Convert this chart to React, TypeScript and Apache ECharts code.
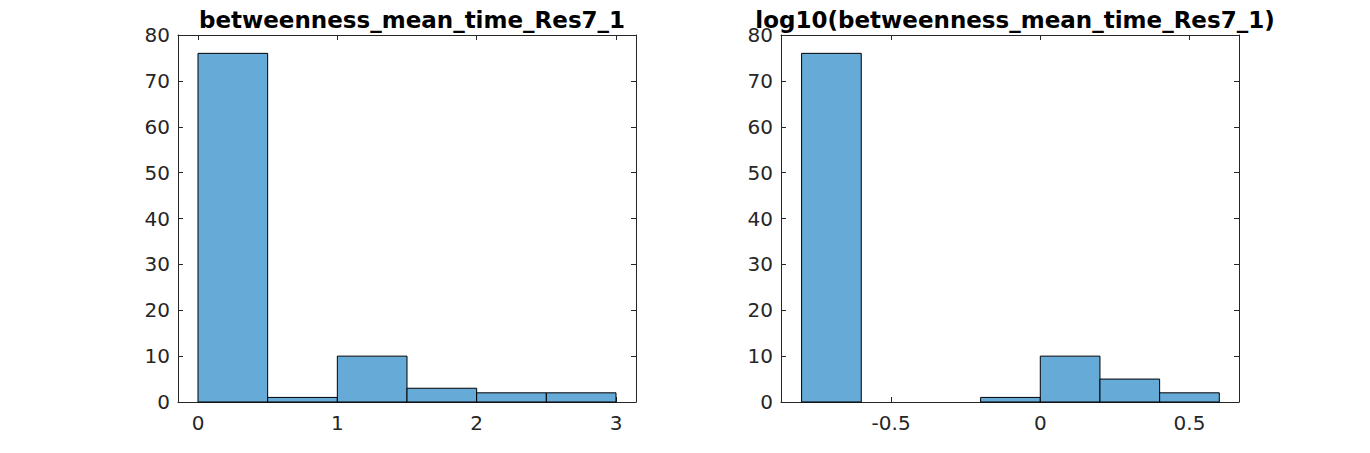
import { useEffect, useRef } from 'react';
import * as echarts from 'echarts';

// histogram bins: [start, end, count]
const binEdgesLeft = [0, 0.5, 1, 1.5, 2, 2.5, 3];
const countsLeft = [76, 1, 10, 3, 2, 2];
const binEdgesRight = [-0.8, -0.6, -0.4, -0.2, 0, 0.2, 0.4, 0.6];
const countsRight = [76, 0, 0, 1, 10, 5, 2];
const ticksLeft = [0, 1, 2, 3];
const ticksRight = [-0.5, 0, 0.5];
const titles = ['betweenness_mean_time_Res7_1', 'log10(betweenness_mean_time_Res7_1)'];

const AXIS = '#262626';
const FONT = "'DejaVu Sans', sans-serif";

const toBins = (edges: number[], counts: number[]) =>
  counts.map((c, i) => [edges[i], edges[i + 1], c]);

export default function App() {
  const chartRef = useRef<HTMLDivElement>(null);

  useEffect(() => {
    if (!chartRef.current) return;
    const chart = echarts.init(chartRef.current, null, { renderer: 'svg' });

    const grids = [
      { left: 178, top: 35, width: 458, height: 367 },
      { left: 781, top: 35, width: 458, height: 367 },
    ];
    const ranges = [
      { min: -0.1435, max: 3.1435, ticks: ticksLeft },
      { min: -0.869, max: 0.666, ticks: ticksRight },
    ];

    const xAxis: any[] = [];
    const yAxis: any[] = [];
    ranges.forEach((r, g) => {
      ['bottom', 'top'].forEach((pos) => {
        xAxis.push({
          type: 'value',
          gridIndex: g,
          position: pos,
          min: r.min,
          max: r.max,
          axisLine: { show: true, onZero: false, lineStyle: { color: AXIS, width: 1 } },
          axisTick: { show: true, inside: true, length: 5, customValues: r.ticks, lineStyle: { color: AXIS } },
          axisLabel: {
            show: pos === 'bottom',
            customValues: r.ticks,
            color: AXIS,
            fontSize: 20,
            fontFamily: FONT,
            margin: 11,
            formatter: (v: number) => (v < 0 ? '-' + String(Math.abs(v)) : String(v)),
          },
          splitLine: { show: false },
        });
      });
      ['left', 'right'].forEach((pos) => {
        yAxis.push({
          type: 'value',
          gridIndex: g,
          position: pos,
          min: 0,
          max: 80,
          interval: 10,
          axisLine: { show: true, onZero: false, lineStyle: { color: AXIS, width: 1 } },
          axisTick: { show: true, inside: true, length: 5, lineStyle: { color: AXIS } },
          axisLabel: { show: pos === 'left', color: AXIS, fontSize: 20, fontFamily: FONT, margin: 8 },
          splitLine: { show: false },
        });
      });
    });

    const renderItem = (params: any, api: any) => {
      if (api.value(2) <= 0) return null;
      const p0 = api.coord([api.value(0), api.value(2)]);
      const p1 = api.coord([api.value(1), 0]);
      return {
        type: 'rect',
        shape: { x: p0[0], y: p0[1], width: p1[0] - p0[0], height: p1[1] - p0[1] },
        style: { fill: '#66AAD7', stroke: '#000000', lineWidth: 1 },
      };
    };

    const option = {
      animation: false,
      title: titles.map((t, i) => ({
        text: t,
        left: grids[i].left + grids[i].width / 2,
        top: 3,
        textAlign: 'center',
        textStyle: { fontSize: 23, fontWeight: 'bold', color: '#000', fontFamily: FONT },
      })),
      grid: grids,
      xAxis,
      yAxis,
      series: [
        {
          type: 'custom',
          xAxisIndex: 0,
          yAxisIndex: 0,
          renderItem,
          encode: { x: [0, 1], y: 2 },
          data: toBins(binEdgesLeft, countsLeft),
        },
        {
          type: 'custom',
          xAxisIndex: 2,
          yAxisIndex: 2,
          renderItem,
          encode: { x: [0, 1], y: 2 },
          data: toBins(binEdgesRight, countsRight),
        },
      ],
    };

    chart.setOption(option);
    return () => {
      chart.dispose();
    };
  }, []);

  return (
    <div
      ref={chartRef}
      style={{ position: 'fixed', left: 0, top: 0, width: '1370px', height: '453px', background: '#fff' }}
    ></div>
  );
}
